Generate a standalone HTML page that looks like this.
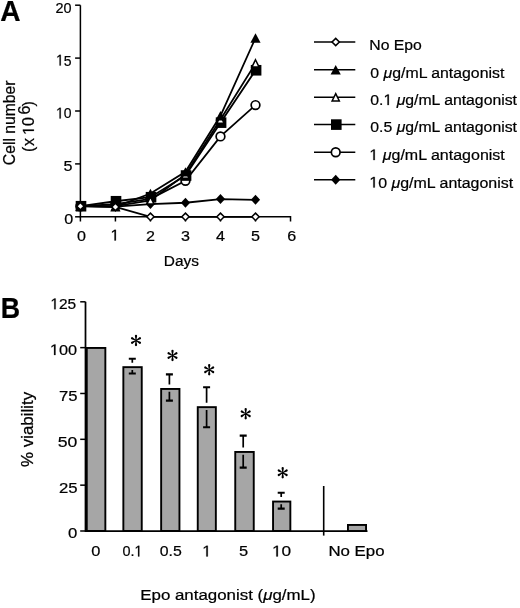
<!DOCTYPE html>
<html><head><meta charset="utf-8"><style>
html,body{margin:0;padding:0;background:#fff;}
svg{display:block;will-change:transform;}
text{font-family:"Liberation Sans",sans-serif;fill:#000;stroke:#000;stroke-width:0.22px;}
.h{fill:none;stroke:none;}
</style></head><body>
<svg width="520" height="608" viewBox="0 0 520 608">
<rect width="520" height="608" fill="#fff"/>
<path d="M80.4,5.20 L80.4,216.8 L290.52,216.8 L290.52,221.5" fill="none" stroke="#000" stroke-width="1.5"/>
<line x1="75.10000000000001" y1="216.80" x2="80.4" y2="216.80" stroke="#000" stroke-width="1.5"/>
<line x1="75.10000000000001" y1="163.90" x2="80.4" y2="163.90" stroke="#000" stroke-width="1.5"/>
<line x1="75.10000000000001" y1="111.00" x2="80.4" y2="111.00" stroke="#000" stroke-width="1.5"/>
<line x1="75.10000000000001" y1="58.10" x2="80.4" y2="58.10" stroke="#000" stroke-width="1.5"/>
<line x1="75.10000000000001" y1="5.20" x2="80.4" y2="5.20" stroke="#000" stroke-width="1.5"/>
<line x1="80.40" y1="216.8" x2="80.40" y2="221.5" stroke="#000" stroke-width="1.5"/>
<line x1="115.42" y1="216.8" x2="115.42" y2="221.5" stroke="#000" stroke-width="1.5"/>
<line x1="150.44" y1="216.8" x2="150.44" y2="221.5" stroke="#000" stroke-width="1.5"/>
<line x1="185.46" y1="216.8" x2="185.46" y2="221.5" stroke="#000" stroke-width="1.5"/>
<line x1="220.48" y1="216.8" x2="220.48" y2="221.5" stroke="#000" stroke-width="1.5"/>
<line x1="255.50" y1="216.8" x2="255.50" y2="221.5" stroke="#000" stroke-width="1.5"/>
<polyline points="80.40,206.22 115.42,206.54 150.44,204.10 185.46,202.73 220.48,199.03 255.50,199.87" fill="none" stroke="#000" stroke-width="1.8"/>
<polyline points="80.40,206.22 115.42,204.10 150.44,198.81 185.46,180.83 220.48,136.39 255.50,105.08" fill="none" stroke="#000" stroke-width="1.8"/>
<polyline points="80.40,206.22 115.42,201.25 150.44,197.23 185.46,175.54 220.48,122.64 255.50,70.27" fill="none" stroke="#000" stroke-width="1.8"/>
<polyline points="80.40,206.22 115.42,206.22 150.44,200.40 185.46,174.48 220.48,119.46 255.50,63.39" fill="none" stroke="#000" stroke-width="1.8"/>
<polyline points="80.40,206.22 115.42,206.75 150.44,193.52 185.46,171.84 220.48,115.76 255.50,38.00" fill="none" stroke="#000" stroke-width="1.8"/>
<polyline points="80.40,206.22 115.42,206.96 150.44,216.80 185.46,216.80 220.48,216.80 255.50,216.80" fill="none" stroke="#000" stroke-width="1.8"/>
<path d="M80.40,201.22 L85.00,206.22 L80.40,211.22 L75.80,206.22Z" fill="#000"/>
<path d="M115.42,201.54 L120.02,206.54 L115.42,211.54 L110.82,206.54Z" fill="#000"/>
<path d="M150.44,199.10 L155.04,204.10 L150.44,209.10 L145.84,204.10Z" fill="#000"/>
<path d="M185.46,197.73 L190.06,202.73 L185.46,207.73 L180.86,202.73Z" fill="#000"/>
<path d="M220.48,194.03 L225.08,199.03 L220.48,204.03 L215.88,199.03Z" fill="#000"/>
<path d="M255.50,194.87 L260.10,199.87 L255.50,204.87 L250.90,199.87Z" fill="#000"/>
<circle cx="80.40" cy="206.22" r="4.35" fill="#fff" stroke="#000" stroke-width="1.7"/>
<circle cx="115.42" cy="204.10" r="4.35" fill="#fff" stroke="#000" stroke-width="1.7"/>
<circle cx="150.44" cy="198.81" r="4.35" fill="#fff" stroke="#000" stroke-width="1.7"/>
<circle cx="185.46" cy="180.83" r="4.35" fill="#fff" stroke="#000" stroke-width="1.7"/>
<circle cx="220.48" cy="136.39" r="4.35" fill="#fff" stroke="#000" stroke-width="1.7"/>
<circle cx="255.50" cy="105.08" r="4.35" fill="#fff" stroke="#000" stroke-width="1.7"/>
<rect x="75.70" y="200.92" width="10.60" height="10.60" fill="#000"/>
<rect x="110.72" y="195.95" width="10.60" height="10.60" fill="#000"/>
<rect x="145.74" y="191.93" width="10.60" height="10.60" fill="#000"/>
<rect x="180.76" y="170.24" width="10.60" height="10.60" fill="#000"/>
<rect x="215.78" y="117.34" width="10.60" height="10.60" fill="#000"/>
<rect x="250.80" y="64.97" width="10.60" height="10.60" fill="#000"/>
<path d="M80.40,202.62 L84.00,209.92 L76.80,209.92Z" fill="#fff" stroke="#000" stroke-width="1.5" stroke-linejoin="miter"/>
<path d="M115.42,202.62 L119.02,209.92 L111.82,209.92Z" fill="#fff" stroke="#000" stroke-width="1.5" stroke-linejoin="miter"/>
<path d="M150.44,196.80 L154.04,204.10 L146.84,204.10Z" fill="#fff" stroke="#000" stroke-width="1.5" stroke-linejoin="miter"/>
<path d="M185.46,170.88 L189.06,178.18 L181.86,178.18Z" fill="#fff" stroke="#000" stroke-width="1.5" stroke-linejoin="miter"/>
<path d="M220.48,115.86 L224.08,123.16 L216.88,123.16Z" fill="#fff" stroke="#000" stroke-width="1.5" stroke-linejoin="miter"/>
<path d="M255.50,59.79 L259.10,67.09 L251.90,67.09Z" fill="#fff" stroke="#000" stroke-width="1.5" stroke-linejoin="miter"/>
<path d="M80.40,201.52 L85.50,210.87 L75.30,210.87Z" fill="#000"/>
<path d="M115.42,202.05 L120.52,211.40 L110.32,211.40Z" fill="#000"/>
<path d="M150.44,188.82 L155.54,198.17 L145.34,198.17Z" fill="#000"/>
<path d="M185.46,167.14 L190.56,176.49 L180.36,176.49Z" fill="#000"/>
<path d="M220.48,111.06 L225.58,120.41 L215.38,120.41Z" fill="#000"/>
<path d="M255.50,33.30 L260.60,42.65 L250.40,42.65Z" fill="#000"/>
<path d="M80.40,202.57 L84.05,206.22 L80.40,209.87 L76.75,206.22Z" fill="#fff" stroke="#000" stroke-width="1.5"/>
<path d="M115.42,203.31 L119.07,206.96 L115.42,210.61 L111.77,206.96Z" fill="#fff" stroke="#000" stroke-width="1.5"/>
<path d="M150.44,213.15 L154.09,216.80 L150.44,220.45 L146.79,216.80Z" fill="#fff" stroke="#000" stroke-width="1.5"/>
<path d="M185.46,213.15 L189.11,216.80 L185.46,220.45 L181.81,216.80Z" fill="#fff" stroke="#000" stroke-width="1.5"/>
<path d="M220.48,213.15 L224.13,216.80 L220.48,220.45 L216.83,216.80Z" fill="#fff" stroke="#000" stroke-width="1.5"/>
<path d="M255.50,213.15 L259.15,216.80 L255.50,220.45 L251.85,216.80Z" fill="#fff" stroke="#000" stroke-width="1.5"/>
<line x1="314" y1="42.00" x2="355.3" y2="42.00" stroke="#000" stroke-width="1.5"/>
<path d="M335.70,38.35 L339.35,42.00 L335.70,45.65 L332.05,42.00Z" fill="#fff" stroke="#000" stroke-width="1.5"/>
<line x1="314" y1="69.75" x2="355.3" y2="69.75" stroke="#000" stroke-width="1.5"/>
<path d="M335.70,65.05 L340.80,74.40 L330.60,74.40Z" fill="#000"/>
<line x1="314" y1="97.25" x2="355.3" y2="97.25" stroke="#000" stroke-width="1.5"/>
<path d="M335.70,93.65 L339.30,100.95 L332.10,100.95Z" fill="#fff" stroke="#000" stroke-width="1.5" stroke-linejoin="miter"/>
<line x1="314" y1="124.60" x2="355.3" y2="124.60" stroke="#000" stroke-width="1.5"/>
<rect x="331.00" y="119.30" width="10.60" height="10.60" fill="#000"/>
<line x1="314" y1="152.30" x2="355.3" y2="152.30" stroke="#000" stroke-width="1.5"/>
<circle cx="335.70" cy="152.30" r="4.35" fill="#fff" stroke="#000" stroke-width="1.7"/>
<line x1="314" y1="179.75" x2="355.3" y2="179.75" stroke="#000" stroke-width="1.5"/>
<path d="M335.70,174.75 L340.30,179.75 L335.70,184.75 L331.10,179.75Z" fill="#000"/>
<line x1="80.2" y1="531.00" x2="85.5" y2="531.00" stroke="#000" stroke-width="1.5"/>
<line x1="80.2" y1="485.16" x2="85.5" y2="485.16" stroke="#000" stroke-width="1.5"/>
<line x1="80.2" y1="439.32" x2="85.5" y2="439.32" stroke="#000" stroke-width="1.5"/>
<line x1="80.2" y1="393.48" x2="85.5" y2="393.48" stroke="#000" stroke-width="1.5"/>
<line x1="80.2" y1="347.64" x2="85.5" y2="347.64" stroke="#000" stroke-width="1.5"/>
<line x1="80.2" y1="301.80" x2="85.5" y2="301.80" stroke="#000" stroke-width="1.5"/>
<rect x="86.75" y="347.95" width="18.60" height="183.05" fill="#a6a6a6" stroke="#000" stroke-width="1.9"/>
<rect x="123.35" y="367.15" width="18.40" height="163.85" fill="#a6a6a6" stroke="#000" stroke-width="1.9"/>
<path d="M132.30,358.6 L132.30,362.70 M132.30,369.90 L132.30,373.7" stroke="#000" stroke-width="1.7" fill="none"/>
<path d="M128.80,358.8 L135.80,358.8 M128.80,373.5 L135.80,373.5" stroke="#000" stroke-width="2.1" fill="none"/>
<path d="M136.35,340.50 L137.15,335.95 A1.15,1.15 0 0 0 134.85,335.95 L135.65,340.50Z M135.65,340.50 L134.85,345.05 A1.15,1.15 0 0 0 137.15,345.05 L136.35,340.50Z M136.18,340.80 L140.52,339.22 A1.15,1.15 0 0 0 139.37,337.23 L135.82,340.20Z M135.82,340.20 L131.48,341.78 A1.15,1.15 0 0 0 132.63,343.77 L136.18,340.80Z M136.18,340.20 L132.63,337.23 A1.15,1.15 0 0 0 131.48,339.22 L135.82,340.80Z M135.82,340.80 L139.37,343.77 A1.15,1.15 0 0 0 140.52,341.78 L136.18,340.20Z " fill="#000"/>
<rect x="161.15" y="388.95" width="18.30" height="142.05" fill="#a6a6a6" stroke="#000" stroke-width="1.9"/>
<path d="M169.40,374.2 L169.40,384.50 M169.40,391.70 L169.40,400.8" stroke="#000" stroke-width="1.7" fill="none"/>
<path d="M165.90,374.4 L172.90,374.4 M165.90,400.6 L172.90,400.6" stroke="#000" stroke-width="2.1" fill="none"/>
<path d="M172.85,355.50 L173.65,350.95 A1.15,1.15 0 0 0 171.35,350.95 L172.15,355.50Z M172.15,355.50 L171.35,360.05 A1.15,1.15 0 0 0 173.65,360.05 L172.85,355.50Z M172.68,355.80 L177.02,354.22 A1.15,1.15 0 0 0 175.87,352.23 L172.32,355.20Z M172.32,355.20 L167.98,356.78 A1.15,1.15 0 0 0 169.13,358.77 L172.68,355.80Z M172.68,355.20 L169.13,352.23 A1.15,1.15 0 0 0 167.98,354.22 L172.32,355.80Z M172.32,355.80 L175.87,358.77 A1.15,1.15 0 0 0 177.02,356.78 L172.68,355.20Z " fill="#000"/>
<rect x="197.75" y="407.15" width="18.10" height="123.85" fill="#a6a6a6" stroke="#000" stroke-width="1.9"/>
<path d="M206.60,387.0 L206.60,402.70 M206.60,409.90 L206.60,427.5" stroke="#000" stroke-width="1.7" fill="none"/>
<path d="M203.10,387.2 L210.10,387.2 M203.10,427.3 L210.10,427.3" stroke="#000" stroke-width="2.1" fill="none"/>
<path d="M209.55,369.80 L210.35,365.25 A1.15,1.15 0 0 0 208.05,365.25 L208.85,369.80Z M208.85,369.80 L208.05,374.35 A1.15,1.15 0 0 0 210.35,374.35 L209.55,369.80Z M209.38,370.10 L213.72,368.52 A1.15,1.15 0 0 0 212.57,366.53 L209.02,369.50Z M209.02,369.50 L204.68,371.08 A1.15,1.15 0 0 0 205.83,373.07 L209.38,370.10Z M209.38,369.50 L205.83,366.53 A1.15,1.15 0 0 0 204.68,368.52 L209.02,370.10Z M209.02,370.10 L212.57,373.07 A1.15,1.15 0 0 0 213.72,371.08 L209.38,369.50Z " fill="#000"/>
<rect x="235.25" y="451.95" width="18.50" height="79.05" fill="#a6a6a6" stroke="#000" stroke-width="1.9"/>
<path d="M243.20,435.4 L243.20,447.50 M243.20,454.70 L243.20,467.8" stroke="#000" stroke-width="1.7" fill="none"/>
<path d="M239.70,435.59999999999997 L246.70,435.59999999999997 M239.70,467.6 L246.70,467.6" stroke="#000" stroke-width="2.1" fill="none"/>
<path d="M246.05,413.80 L246.85,409.25 A1.15,1.15 0 0 0 244.55,409.25 L245.35,413.80Z M245.35,413.80 L244.55,418.35 A1.15,1.15 0 0 0 246.85,418.35 L246.05,413.80Z M245.88,414.10 L250.22,412.52 A1.15,1.15 0 0 0 249.07,410.53 L245.52,413.50Z M245.52,413.50 L241.18,415.08 A1.15,1.15 0 0 0 242.33,417.07 L245.88,414.10Z M245.88,413.50 L242.33,410.53 A1.15,1.15 0 0 0 241.18,412.52 L245.52,414.10Z M245.52,414.10 L249.07,417.07 A1.15,1.15 0 0 0 250.22,415.08 L245.88,413.50Z " fill="#000"/>
<rect x="273.05" y="501.55" width="17.30" height="29.45" fill="#a6a6a6" stroke="#000" stroke-width="1.9"/>
<path d="M281.20,492.5 L281.20,497.10 M281.20,504.30 L281.20,508.8" stroke="#000" stroke-width="1.7" fill="none"/>
<path d="M277.70,492.7 L284.70,492.7 M277.70,508.6 L284.70,508.6" stroke="#000" stroke-width="2.1" fill="none"/>
<path d="M283.05,472.70 L283.85,468.15 A1.15,1.15 0 0 0 281.55,468.15 L282.35,472.70Z M282.35,472.70 L281.55,477.25 A1.15,1.15 0 0 0 283.85,477.25 L283.05,472.70Z M282.88,473.00 L287.22,471.42 A1.15,1.15 0 0 0 286.07,469.43 L282.52,472.40Z M282.52,472.40 L278.18,473.98 A1.15,1.15 0 0 0 279.33,475.97 L282.88,473.00Z M282.88,472.40 L279.33,469.43 A1.15,1.15 0 0 0 278.18,471.42 L282.52,473.00Z M282.52,473.00 L286.07,475.97 A1.15,1.15 0 0 0 287.22,473.98 L282.88,472.40Z " fill="#000"/>
<path d="M85.5,301.80 L85.5,531.0 L367.5,531.0" fill="none" stroke="#000" stroke-width="1.75"/>
<line x1="323.7" y1="486" x2="323.7" y2="535.6" stroke="#000" stroke-width="1.6"/>
<rect x="347.95" y="524.95" width="18.1" height="6.05" fill="#a6a6a6" stroke="#000" stroke-width="1.9"/>
<text id="A" transform="translate(0.24,20.70) scale(0.9687,1)" font-size="29" font-weight="bold">A</text>
<text id="ya0" transform="translate(73.15,224.20) scale(1.0400,1)" font-size="15.5" text-anchor="end">0</text>
<text id="ya5" transform="translate(72.35,171.30) scale(1.0400,1)" font-size="15.5" text-anchor="end">5</text>
<text id="ya10" transform="translate(71.58,118.40) scale(0.9024,1)" font-size="15.5" text-anchor="end"><tspan class="h">1</tspan>0</text>
<text id="ya15" transform="translate(71.61,65.50) scale(0.9024,1)" font-size="15.5" text-anchor="end"><tspan class="h">1</tspan>5</text>
<text id="ya20" transform="translate(71.56,12.60) scale(0.9339,1)" font-size="15.5" text-anchor="end">20</text>
<text id="xa0" transform="translate(81.40,240.50) scale(1.0400,1)" font-size="15.5" text-anchor="middle">0</text>
<text id="xa1" transform="translate(114.92,240.50) scale(1.0400,1)" font-size="15.5" text-anchor="middle"><tspan class="h">1</tspan></text>
<text id="xa2" transform="translate(150.44,240.50) scale(1.0400,1)" font-size="15.5" text-anchor="middle">2</text>
<text id="xa3" transform="translate(185.46,240.50) scale(1.0400,1)" font-size="15.5" text-anchor="middle">3</text>
<text id="xa4" transform="translate(220.48,240.50) scale(1.0400,1)" font-size="15.5" text-anchor="middle">4</text>
<text id="xa5" transform="translate(255.40,240.50) scale(1.0400,1)" font-size="15.5" text-anchor="middle">5</text>
<text id="xa6" transform="translate(291.72,240.50) scale(1.0400,1)" font-size="15.5" text-anchor="middle">6</text>
<text id="days" transform="translate(163.78,265.60) scale(0.9957,1)" font-size="15.5">Days</text>
<text id="cell" transform="translate(14.90,165.13) rotate(-90) scale(0.9824,1)" font-size="16">Cell number</text>
<text id="x106" transform="translate(33.90,151.00) rotate(-90) scale(1.0000,1)" font-size="16"><tspan x="-1.0">(</tspan><tspan x="5.1">x</tspan><tspan x="16.0"><tspan class="h">1</tspan></tspan><tspan x="25.1">0</tspan><tspan x="36.5" dy="-3.8">6</tspan><tspan x="44.6" dy="3.8">)</tspan></text>
<text id="leg0" transform="translate(369.32,49.80) scale(1.0175,1)" font-size="15.5">No Epo</text>
<text id="leg1" transform="translate(370.37,77.55) scale(1.0224,1)" font-size="15.5">0 <tspan font-style="italic">&#956;</tspan>g/mL antagonist</text>
<text id="leg2" transform="translate(370.34,105.05) scale(1.0190,1)" font-size="15.5">0.<tspan class="h">1</tspan> <tspan font-style="italic">&#956;</tspan>g/mL antagonist</text>
<text id="leg3" transform="translate(370.34,132.40) scale(1.0190,1)" font-size="15.5">0.5 <tspan font-style="italic">&#956;</tspan>g/mL antagonist</text>
<text id="leg4" transform="translate(369.33,160.10) scale(1.0337,1)" font-size="15.5"><tspan class="h">1</tspan> <tspan font-style="italic">&#956;</tspan>g/mL antagonist</text>
<text id="leg5" transform="translate(369.33,187.55) scale(1.0293,1)" font-size="15.5"><tspan class="h">1</tspan>0 <tspan font-style="italic">&#956;</tspan>g/mL antagonist</text>
<text id="B" transform="translate(0.86,317.70) scale(0.9248,1)" font-size="29" font-weight="bold">B</text>
<text id="yb0" transform="translate(77.24,538.40) scale(1.0800,1)" font-size="15.5" text-anchor="end">0</text>
<text id="yb25" transform="translate(77.48,492.56) scale(1.0786,1)" font-size="15.5" text-anchor="end">25</text>
<text id="yb50" transform="translate(77.44,446.72) scale(1.1380,1)" font-size="15.5" text-anchor="end">50</text>
<text id="yb75" transform="translate(77.44,400.88) scale(1.0747,1)" font-size="15.5" text-anchor="end">75</text>
<text id="yb100" transform="translate(77.14,355.04) scale(1.0519,1)" font-size="15.5" text-anchor="end"><tspan class="h">1</tspan>00</text>
<text id="yb125" transform="translate(76.17,309.20) scale(0.9980,1)" font-size="15.5" text-anchor="end"><tspan class="h">1</tspan>25</text>
<text id="xb0" transform="translate(95.87,556.40) scale(1.0600,1)" font-size="15.5" text-anchor="middle">0</text>
<text id="xb0.1" transform="translate(132.42,556.40) scale(0.9319,1)" font-size="15.5" text-anchor="middle">0.<tspan class="h">1</tspan></text>
<text id="xb0.5" transform="translate(170.81,556.40) scale(1.0226,1)" font-size="15.5" text-anchor="middle">0.5</text>
<text id="xb1" transform="translate(206.77,556.40) scale(1.0600,1)" font-size="15.5" text-anchor="middle"><tspan class="h">1</tspan></text>
<text id="xb5" transform="translate(243.63,556.40) scale(1.0600,1)" font-size="15.5" text-anchor="middle">5</text>
<text id="xb10" transform="translate(281.60,556.40) scale(1.1133,1)" font-size="15.5" text-anchor="middle"><tspan class="h">1</tspan>0</text>
<text id="xbNo" transform="translate(356.50,556.40) scale(1.0881,1)" font-size="15.5" text-anchor="middle">No Epo</text>
<text id="viab" transform="translate(32.80,467.04) rotate(-90) scale(1.0571,1)" font-size="16">% viability</text>
<text id="epo" transform="translate(140.24,600.20) scale(1.0898,1)" font-size="15.5">Epo antagonist (<tspan font-style="italic">&#956;</tspan>g/mL)</text>
<g fill="#000" stroke="#000" stroke-width="0.22"><path transform="translate(71.58,118.40) scale(0.9024,1)" d="M-13.360,0.000 L-13.360,-9.362 L-15.767,-7.644 L-15.767,-8.931 L-13.247,-10.664 L-11.991,-10.664 L-11.991,0.000Z"/><path transform="translate(71.61,65.50) scale(0.9024,1)" d="M-13.360,0.000 L-13.360,-9.362 L-15.767,-7.644 L-15.767,-8.931 L-13.247,-10.664 L-11.991,-10.664 L-11.991,0.000Z"/><path transform="translate(114.92,240.50) scale(1.0400,1)" d="M-0.414,0.000 L-0.414,-9.362 L-2.820,-7.644 L-2.820,-8.931 L-0.300,-10.664 L0.956,-10.664 L0.956,0.000Z"/><path transform="translate(33.90,151.00) rotate(-90) scale(1.0000,1)" d="M20.023,0.000 L20.023,-9.664 L17.539,-7.891 L17.539,-9.219 L20.141,-11.008 L21.438,-11.008 L21.438,0.000Z"/><path transform="translate(370.34,105.05) scale(1.0190,1)" d="M16.806,0.000 L16.806,-9.362 L14.399,-7.644 L14.399,-8.931 L16.919,-10.664 L18.176,-10.664 L18.176,0.000Z"/><path transform="translate(369.33,160.10) scale(1.0337,1)" d="M3.898,0.000 L3.898,-9.362 L1.491,-7.644 L1.491,-8.931 L4.011,-10.664 L5.268,-10.664 L5.268,0.000Z"/><path transform="translate(369.33,187.55) scale(1.0293,1)" d="M3.898,0.000 L3.898,-9.362 L1.491,-7.644 L1.491,-8.931 L4.011,-10.664 L5.268,-10.664 L5.268,0.000Z"/><path transform="translate(77.14,355.04) scale(1.0519,1)" d="M-21.954,0.000 L-21.954,-9.362 L-24.361,-7.644 L-24.361,-8.931 L-21.841,-10.664 L-20.584,-10.664 L-20.584,0.000Z"/><path transform="translate(76.17,309.20) scale(0.9980,1)" d="M-21.956,0.000 L-21.956,-9.362 L-24.363,-7.644 L-24.363,-8.931 L-21.843,-10.664 L-20.586,-10.664 L-20.586,0.000Z"/><path transform="translate(132.42,556.40) scale(0.9319,1)" d="M6.048,0.000 L6.048,-9.362 L3.641,-7.644 L3.641,-8.931 L6.161,-10.664 L7.418,-10.664 L7.418,0.000Z"/><path transform="translate(206.77,556.40) scale(1.0600,1)" d="M-0.416,0.000 L-0.416,-9.362 L-2.823,-7.644 L-2.823,-8.931 L-0.303,-10.664 L0.954,-10.664 L0.954,0.000Z"/><path transform="translate(281.60,556.40) scale(1.1133,1)" d="M-4.726,0.000 L-4.726,-9.362 L-7.132,-7.644 L-7.132,-8.931 L-4.612,-10.664 L-3.356,-10.664 L-3.356,0.000Z"/></g>
</svg>
</body></html>
